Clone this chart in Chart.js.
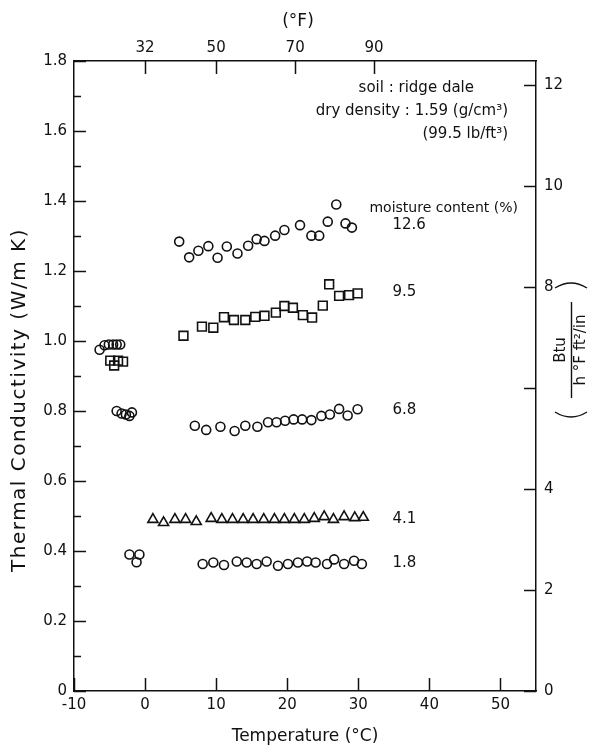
<!DOCTYPE html>
<html>
<head>
<meta charset="utf-8">
<script src="https://cdn.jsdelivr.net/npm/chart.js@4.4.1/dist/chart.umd.min.js"></script>
<style>
  html, body { margin: 0; padding: 0; background: #fff; }
</style>
</head>
<body>
<canvas id="chart" width="595" height="753"></canvas>
<script>
// moisture content 12.6 %
const temp126 = [-6.4, -5.7, -5.1, -4.5, -4.0, -3.5, 4.8, 6.2, 7.5, 8.9, 10.2, 11.5, 13.0, 14.5, 15.7, 16.8, 18.3, 19.6, 21.8, 23.4, 24.5, 25.7, 26.9, 28.2, 29.1];
const cond126 = [0.975, 0.988, 0.99, 0.99, 0.99, 0.99, 1.284, 1.239, 1.258, 1.271, 1.238, 1.27, 1.25, 1.272, 1.291, 1.286, 1.301, 1.317, 1.331, 1.301, 1.301, 1.341, 1.39, 1.336, 1.324];
// moisture content 9.5 %
const temp95 = [-4.9, -4.35, -3.8, -3.1, 5.4, 8.0, 9.6, 11.1, 12.5, 14.1, 15.5, 16.8, 18.4, 19.6, 20.8, 22.2, 23.5, 25.0, 25.9, 27.3, 28.7, 29.9];
const cond95 = [0.944, 0.930, 0.944, 0.941, 1.015, 1.041, 1.038, 1.068, 1.06, 1.06, 1.069, 1.072, 1.081, 1.1, 1.095, 1.074, 1.067, 1.101, 1.162, 1.129, 1.131, 1.136];
// moisture content 6.8 %
const temp68 = [-4.0, -3.3, -2.7, -2.2, -1.85, 7.0, 8.6, 10.6, 12.6, 14.1, 15.8, 17.3, 18.5, 19.7, 20.9, 22.1, 23.4, 24.8, 26.0, 27.3, 28.5, 29.9];
const cond68 = [0.80, 0.793, 0.79, 0.786, 0.796, 0.758, 0.746, 0.755, 0.743, 0.758, 0.755, 0.768, 0.768, 0.772, 0.776, 0.776, 0.774, 0.786, 0.79, 0.806, 0.787, 0.805];
// moisture content 4.1 %
const temp41 = [1.1, 2.6, 4.2, 5.7, 7.2, 9.3, 10.8, 12.3, 13.8, 15.2, 16.7, 18.2, 19.6, 21.0, 22.4, 23.8, 25.2, 26.5, 28.0, 29.5, 30.7];
const cond41 = [0.49, 0.481, 0.49, 0.49, 0.484, 0.493, 0.49, 0.49, 0.49, 0.49, 0.49, 0.49, 0.49, 0.49, 0.49, 0.493, 0.498, 0.49, 0.498, 0.495, 0.496];
// moisture content 1.8 %
const temp18 = [-2.2, -1.2, -0.8, 8.1, 9.6, 11.1, 12.9, 14.3, 15.7, 17.1, 18.7, 20.1, 21.5, 22.8, 24.0, 25.6, 26.6, 28.0, 29.4, 30.5];
const cond18 = [0.39, 0.368, 0.39, 0.363, 0.367, 0.36, 0.37, 0.367, 0.363, 0.37, 0.358, 0.363, 0.367, 0.37, 0.367, 0.363, 0.376, 0.363, 0.372, 0.363];

const moistureLabels = ['12.6', '9.5', '6.8', '4.1', '1.8'];
const celsiusTicks = [-10, 0, 10, 20, 30, 40, 50];
const fahrenheitTicks = [32, 50, 70, 90];
const btuTicks = [0, 2, 4, 6, 8, 10, 12];

const INK = '#111';
const FONT = 'DejaVu Sans';
const W_TO_BTU = 6.933;

function points(xs, ys) {
    return xs.map((x, i) => ({ x: x, y: ys[i] }));
}

function series(label, xs, ys, style, radius) {
    return {
        label: label,
        data: points(xs, ys),
        pointStyle: style,
        pointRadius: radius,
        pointHoverRadius: radius,
        pointBorderWidth: 1.6,
        borderColor: INK,
        backgroundColor: 'rgba(0,0,0,0)',
        showLine: false
    };
}

// inward tick marks, notes, titles and the right-hand unit
const decorations = {
    id: 'decorations',
    afterDraw(chart) {
        const { ctx, chartArea: a, scales } = chart;
        ctx.save();
        ctx.strokeStyle = INK;
        ctx.lineWidth = 1.5;
        ctx.beginPath();
        scales.y.ticks.forEach(t => {
            const y = Math.round(scales.y.getPixelForValue(t.value)) + 0.5;
            const len = Math.round(t.value * 10) % 2 === 0 ? 12 : 7;
            ctx.moveTo(a.left, y);
            ctx.lineTo(a.left + len, y);
        });
        scales.y2.ticks.forEach(t => {
            const y = Math.round(scales.y2.getPixelForValue(t.value)) + 0.5;
            ctx.moveTo(a.right, y);
            ctx.lineTo(a.right - 12, y);
        });
        scales.x.ticks.forEach(t => {
            const x = Math.round(scales.x.getPixelForValue(t.value)) + 0.5;
            ctx.moveTo(x, a.bottom);
            ctx.lineTo(x, a.bottom - 13);
        });
        scales.x2.ticks.forEach(t => {
            const x = Math.round(scales.x2.getPixelForValue(t.value)) + 0.5;
            ctx.moveTo(x, a.top);
            ctx.lineTo(x, a.top + 13);
        });
        ctx.stroke();

        ctx.fillStyle = INK;
        ctx.textBaseline = 'middle';

        // top title
        ctx.font = '17px "' + FONT + '"';
        ctx.textAlign = 'center';
        ctx.fillText('(°F)', 298, 22);

        // soil note
        ctx.textAlign = 'right';
        ctx.font = '15px "' + FONT + '"';
        ctx.fillText('soil : ridge dale', 474, 88);
        ctx.fillText('dry density : 1.59 (g/cm³)', 508, 111);
        ctx.fillText('(99.5 lb/ft³)', 508, 134);
        ctx.font = '14px "' + FONT + '"';
        ctx.fillText('moisture content (%)', 518, 208);

        ctx.font = '15px "' + FONT + '"';
        ctx.textAlign = 'left';
        const labelY = [1.331, 1.14, 0.803, 0.491, 0.366];
        moistureLabels.forEach((txt, i) => {
            ctx.fillText(txt, scales.x.getPixelForValue(34.8), scales.y.getPixelForValue(labelY[i]));
        });

        // left title
        ctx.save();
        ctx.translate(20, 400);
        ctx.rotate(-Math.PI / 2);
        ctx.textAlign = 'center';
        ctx.font = '20px "' + FONT + '"';
        ctx.letterSpacing = '1.5px';
        ctx.fillText('Thermal Conductivity (W/m K)', 0, 0);
        ctx.restore();

        // right axis unit: Btu / (h °F ft²/in), written upwards
        ctx.translate(571, 350);
        ctx.rotate(-Math.PI / 2);
        ctx.textAlign = 'center';
        ctx.font = '15px "' + FONT + '"';
        ctx.fillText('Btu', 0, -10);
        ctx.fillText('h °F ft²/in', 0, 10);
        ctx.lineWidth = 1.4;
        ctx.beginPath();
        ctx.moveTo(-48, 0.5);
        ctx.lineTo(48, 0.5);
        ctx.moveTo(-62, -16);
        ctx.quadraticCurveTo(-72, 0, -62, 16);
        ctx.moveTo(62, -16);
        ctx.quadraticCurveTo(72, 0, 62, 16);
        ctx.stroke();
        ctx.restore();
    }
};

const tickFont = { family: FONT, size: 15 };
const titleFont = { family: FONT, size: 17 };

new Chart(document.getElementById('chart'), {
    type: 'scatter',
    data: {
        datasets: [
            series('12.6', temp126, cond126, 'circle', 4.5),
            series('9.5', temp95, cond95, 'rect', 6.2),
            series('6.8', temp68, cond68, 'circle', 4.5),
            series('4.1', temp41, cond41, 'triangle', 5.8),
            series('1.8', temp18, cond18, 'circle', 4.5)
        ]
    },
    options: {
        responsive: false,
        animation: false,
        devicePixelRatio: 1,
        layout: { padding: 0 },
        plugins: { legend: { display: false }, tooltip: { enabled: false } },
        scales: {
            x: {
                type: 'linear', position: 'bottom', min: -10, max: 55,
                afterBuildTicks: s => { s.ticks = celsiusTicks.map(v => ({ value: v })); },
                afterFit: s => { s.height = 62; },
                grid: { display: false, drawTicks: false },
                border: { display: true, color: INK, width: 1.5 },
                ticks: { color: INK, font: tickFont, padding: 5, maxRotation: 0, autoSkip: false },
                title: { display: true, text: 'Temperature (°C)', color: INK, font: titleFont, padding: { top: 0, bottom: 6 } }
            },
            x2: {
                type: 'linear', position: 'top', min: -10 * 1.8 + 32, max: 55 * 1.8 + 32,
                afterBuildTicks: s => { s.ticks = fahrenheitTicks.map(v => ({ value: v })); },
                afterFit: s => { s.height = 61; },
                grid: { display: false, drawTicks: false },
                border: { display: true, color: INK, width: 1.5 },
                ticks: { color: INK, font: tickFont, padding: 4, maxRotation: 0, autoSkip: false }
            },
            y: {
                type: 'linear', position: 'left', min: 0, max: 1.8,
                ticks: {
                    stepSize: 0.1, color: INK, font: tickFont, padding: 7, autoSkip: false,
                    callback: v => {
                        const n = Math.round(v * 10);
                        if (n % 2 !== 0) return '';
                        return n === 0 ? '0' : (n / 10).toFixed(1);
                    }
                },
                afterFit: s => { s.width = 74; },
                grid: { display: false, drawTicks: false },
                border: { display: true, color: INK, width: 1.5 }
            },
            y2: {
                type: 'linear', position: 'right', min: 0, max: 1.8 * W_TO_BTU,
                afterBuildTicks: s => { s.ticks = btuTicks.map(v => ({ value: v })); },
                afterFit: s => { s.width = 59; },
                grid: { display: false, drawTicks: false },
                border: { display: true, color: INK, width: 1.5 },
                ticks: { color: INK, font: tickFont, padding: 8, autoSkip: false, callback: v => (v === 6 ? '' : String(v)) }
            }
        }
    },
    plugins: [decorations]
});
</script>
</body>
</html>
